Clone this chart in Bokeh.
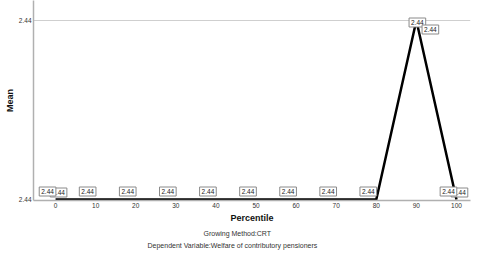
from bokeh.plotting import figure
from bokeh.models import (ColumnDataSource, FixedTicker, PrintfTickFormatter,
                          Range1d, Title)
from bokeh.core.properties import value
from bokeh.embed import file_html
from bokeh.resources import INLINE

# ---- data ----
percentiles = [0, 10, 20, 30, 40, 50, 60, 70, 80, 90, 100]
means = [2.4401, 2.4401, 2.4401, 2.4401, 2.4401, 2.4401, 2.4401, 2.4401, 2.4401, 2.4449, 2.4401]
x_ticks = [0, 10, 20, 30, 40, 50, 60, 70, 80, 90, 100]
y_ticks = [2.4401, 2.4449]
x_title = "Percentile"
y_title = "Mean"
subtitle_1 = "Growing Method:CRT"
subtitle_2 = "Dependent Variable:Welfare of contributory pensioners"

FONT = "Liberation Sans"
lo, hi = min(means), max(means)
span = hi - lo

p = figure(width=480, height=256, output_backend="svg", toolbar_location=None,
           x_range=Range1d(-5.5, 103.5),
           y_range=Range1d(lo - span * 1.0 / 179, hi + span * 20.0 / 179),
           min_border_left=33, min_border_right=10, min_border_top=0,
           min_border_bottom=56)
p.outline_line_color = None
p.background_fill_color = "white"
p.border_fill_color = "white"

# axes
p.xaxis.ticker = FixedTicker(ticks=x_ticks)
p.yaxis.ticker = FixedTicker(ticks=y_ticks)
p.yaxis.formatter = PrintfTickFormatter(format="%.2f")
for ax in (p.xaxis[0], p.yaxis[0]):
    ax.axis_line_color = "#b0b0b0"
    ax.axis_line_width = 1.5
    ax.major_tick_line_color = None
    ax.minor_tick_line_color = None
    ax.major_tick_out = 0
    ax.major_tick_in = 0
    ax.major_label_text_font = FONT
    ax.major_label_text_font_size = "6.5px"
    ax.major_label_text_color = "#333333"
    ax.axis_label_text_font = FONT
    ax.axis_label_text_font_size = "9px"
    ax.axis_label_text_font_style = "bold"
    ax.axis_label_text_color = "#111111"
p.xaxis.major_label_standoff = 2
p.yaxis.major_label_standoff = 2
p.xaxis.axis_label = x_title
p.yaxis.axis_label = y_title
p.xaxis.axis_label_standoff = 2
p.yaxis.axis_label_standoff = 1

p.xgrid.grid_line_color = None
p.ygrid.ticker = FixedTicker(ticks=[hi])
p.ygrid.grid_line_color = "#cfcfcf"
p.ygrid.grid_line_width = 1

# subtitles below the axis
p.add_layout(Title(text=subtitle_1, align="left", offset=170, standoff=4,
                   text_font=FONT, text_font_size="7px",
                   text_font_style="normal", text_color="#333333"), "below")
p.add_layout(Title(text=subtitle_2, align="left", offset=114, standoff=3,
                   text_font=FONT, text_font_size="7px",
                   text_font_style="normal", text_color="#333333"), "below")

# line
p.line(percentiles, means, line_color="black", line_width=2.5)

labels = [f"{m:.2f}" for m in means]
low_idx = [i for i, m in enumerate(means) if m < hi]
peak_idx = [i for i, m in enumerate(means) if m == hi]
edge_idx = [0, len(means) - 1]


def subset(idx):
    return ColumnDataSource(dict(x=[percentiles[i] for i in idx],
                                 y=[means[i] for i in idx],
                                 t=[labels[i] for i in idx]))


common = dict(x="x", y="y", text="t", text_font=value(FONT),
              text_font_size="6.5px", text_color="#222222",
              text_align="center", text_baseline="middle",
              background_fill_color="white", border_line_color="#8a8a8a",
              border_line_width=1, padding=2)

# duplicate labels at the ends (drawn underneath)
p.text(source=subset(edge_idx), x_offset=3, y_offset=-7, **common)
# main labels at low points
p.text(source=subset(low_idx), x_offset=-8, y_offset=-8, **common)
# peak labels
p.text(source=subset(peak_idx), x_offset=1, y_offset=2, **common)
p.text(source=subset(peak_idx), x_offset=14, y_offset=9, **common)

open("out.html", "w").write(file_html(p, INLINE))
